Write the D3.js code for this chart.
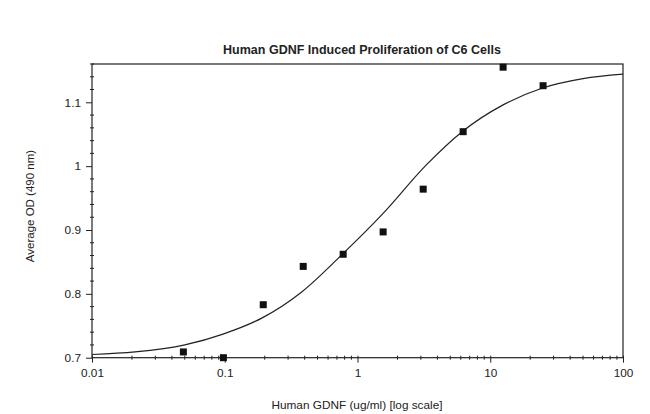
<!DOCTYPE html>
<html><head><meta charset="utf-8">
<script src="https://cdn.jsdelivr.net/npm/d3@7"></script>
<style>body{margin:0;background:#fff}svg{display:block}text{font-family:"Liberation Sans",Arial,sans-serif;fill:#222}</style>
</head><body>
<svg id="c" width="650" height="414"></svg>
<script>
// Data points (concentration ug/ml, average OD)
const concentrations = [0.0488, 0.0977, 0.195, 0.39, 0.78, 1.56, 3.125, 6.25, 12.5, 25];
const odValues = [0.709, 0.700, 0.783, 0.843, 0.862, 0.897, 0.964, 1.054, 1.155, 1.126];
// Fitted curve
const curveX = [0.01, 0.0211, 0.05, 0.097, 0.19, 0.38, 0.76, 1.56, 3.3, 6.14, 12.5, 24.5, 50, 100];
const curveY = [0.705, 0.709, 0.720, 0.737, 0.762, 0.803, 0.861, 0.926, 1.002, 1.054, 1.096, 1.122, 1.137, 1.144];
const xTicks = [0.01, 0.1, 1, 10, 100];
const xTickLabels = ["0.01", "0.1", "1", "10", "100"];
const yTicks = [0.7, 0.8, 0.9, 1.0, 1.1];
const yTickLabels = ["0.7", "0.8", "0.9", "1", "1.1"];

const svg = d3.select("#c");
const L = 92, R = 623, T = 64, B = 357.7;
const x = d3.scaleLog().domain([0.01, 100]).range([L, R]);
const y = d3.scaleLinear().domain([0.7, 1.16]).range([B, T]);

// frame
svg.append("rect").attr("x", L).attr("y", T).attr("width", R - L).attr("height", B - T)
  .attr("fill", "none").attr("stroke", "#222").attr("stroke-width", 1.2);

// x axis
const xMinor = [];
for (let d = 0.01; d < 100; d *= 10) for (let k = 2; k <= 9; k++) xMinor.push(d * k);
const gx = svg.append("g").attr("transform", `translate(0,${B})`);
gx.call(d3.axisBottom(x).tickValues(xTicks).tickFormat((d, i) => xTickLabels[i]).tickSize(5).tickPadding(6))
  .call(g => g.select(".domain").remove())
  .call(g => g.selectAll("line").attr("stroke", "#222").attr("y1", -2))
  .call(g => g.selectAll("text").attr("font-size", 11.8).style("fill", "#222"));
gx.selectAll(".minor").data(xMinor).join("line").attr("class", "minor")
  .attr("x1", d => x(d)).attr("x2", d => x(d)).attr("y1", -2).attr("y2", 2).attr("stroke", "#222");

// y axis
const yMinor = d3.range(0.72, 1.161, 0.02).filter(v => Math.abs(v * 10 - Math.round(v * 10)) > 0.01);
const gy = svg.append("g").attr("transform", `translate(${L},0)`);
gy.call(d3.axisLeft(y).tickValues(yTicks).tickFormat((d, i) => yTickLabels[i]).tickSize(6).tickPadding(5))
  .call(g => g.select(".domain").remove())
  .call(g => g.selectAll("line").attr("stroke", "#222"))
  .call(g => g.selectAll("text").attr("font-size", 11.8).style("fill", "#222"));
gy.selectAll(".minor").data(yMinor).join("line").attr("class", "minor")
  .attr("y1", d => y(d)).attr("y2", d => y(d)).attr("x1", -2).attr("x2", 2).attr("stroke", "#222");

// curve
const line = d3.line().x((d, i) => x(curveX[i])).y((d, i) => y(curveY[i])).curve(d3.curveMonotoneX);
svg.append("path").attr("d", line(curveX)).attr("fill", "none").attr("stroke", "#222").attr("stroke-width", 1.2);

// points
const s = 7;
svg.selectAll(".pt").data(concentrations).join("rect").attr("class", "pt")
  .attr("x", d => x(d) - s / 2).attr("y", (d, i) => y(odValues[i]) - s / 2)
  .attr("width", s).attr("height", s).attr("fill", "#111");

// titles
svg.append("text").attr("x", 362).attr("y", 54).attr("text-anchor", "middle")
  .attr("font-size", 12.5).attr("font-weight", "bold").text("Human GDNF Induced Proliferation of C6 Cells");
svg.append("text").attr("x", 357).attr("y", 409).attr("text-anchor", "middle")
  .attr("font-size", 11.8).text("Human GDNF (ug/ml) [log scale]");
svg.append("text").attr("transform", `translate(34,206) rotate(-90)`).attr("text-anchor", "middle")
  .attr("font-size", 11.5).text("Average OD (490 nm)");
</script>
</body></html>
